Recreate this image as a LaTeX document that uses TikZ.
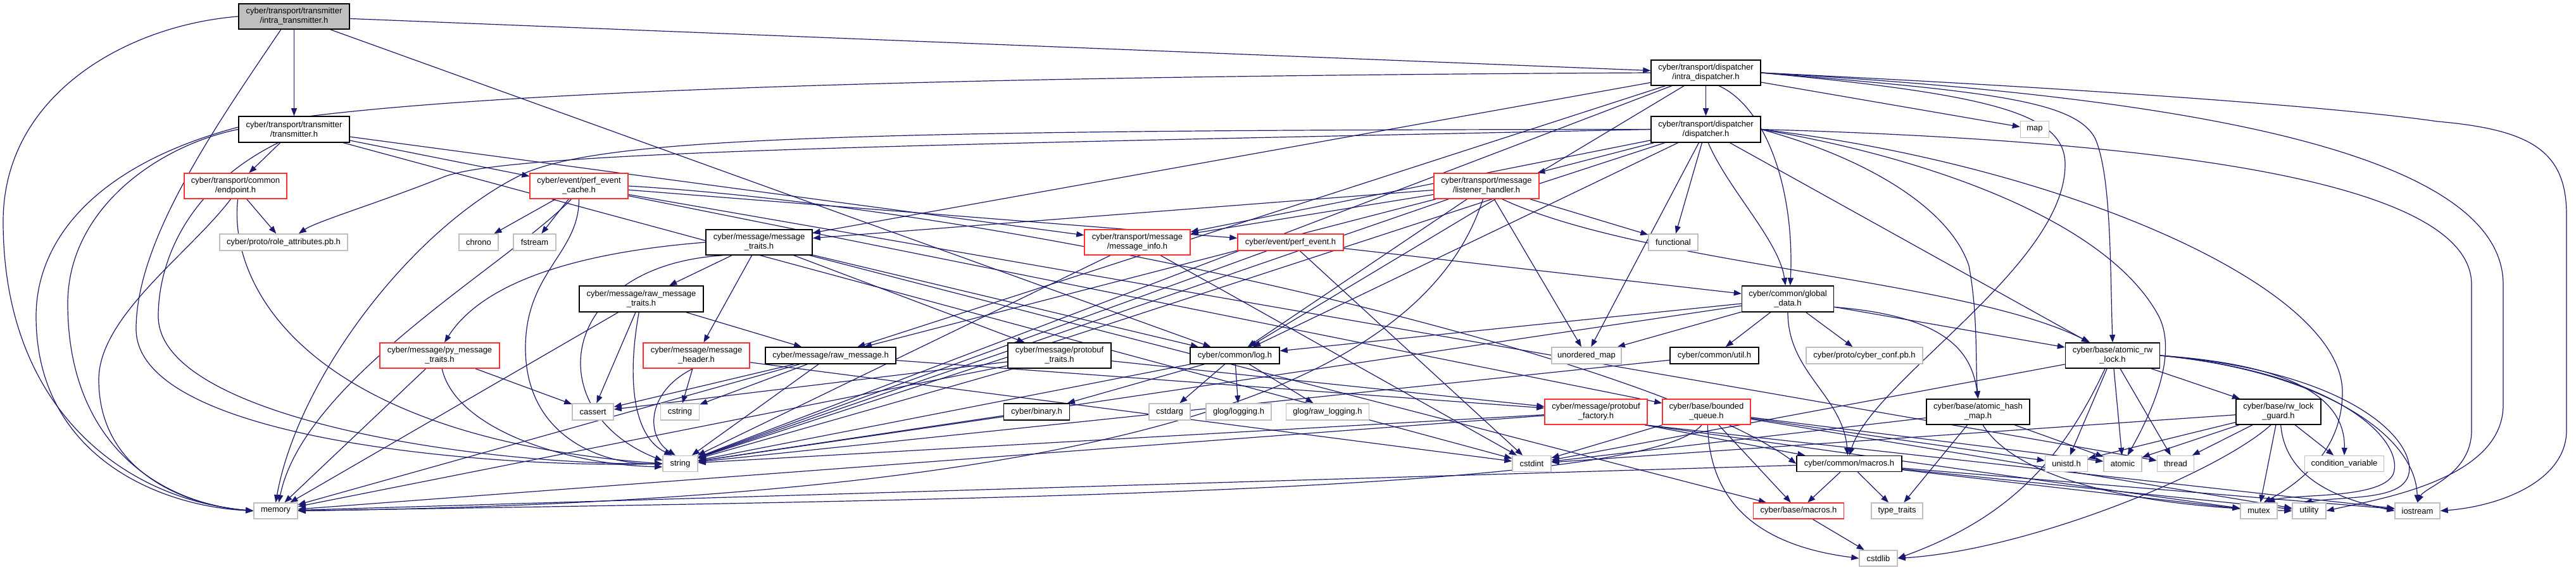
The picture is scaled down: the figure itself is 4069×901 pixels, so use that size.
\documentclass[tikz,border=0pt]{standalone}
\usepackage{fontspec}
\setmainfont{Liberation Sans}
\usetikzlibrary{arrows.meta}
\definecolor{edgec}{HTML}{191970}
\definecolor{leafc}{HTML}{BFBFBF}
\definecolor{redc}{HTML}{FF3030}
\pgfdeclarelayer{back}
\pgfdeclarelayer{edges}
\pgfsetlayers{back,edges,main}
\newcommand{\mkn}[7]{\node[#1, minimum width=#5pt, minimum height=#6pt] (#2) at (#3,#4) {#7};}
\begin{document}
\begin{tikzpicture}[x=1pt,y=-1pt,
  bx/.style={draw, fill=white, line width=1.5pt, align=center, inner sep=0pt, font=\fontsize{13}{15}\selectfont},
  nb/.style={bx, draw=black},
  nr/.style={bx, draw=redc},
  ng/.style={bx, draw=leafc},
  root/.style={bx, draw=black, fill=leafc},
  e/.style={draw=edgec, line width=1.2pt, -{Triangle[length=12pt,width=9pt]}, fill=none}]
\begin{pgfonlayer}{back}
\fill[white] (0,0) rectangle (4069,901);
\end{pgfonlayer}
\useasboundingbox (0,0) rectangle (4069,901);
% nodes
\mkn{root}{it}{464.5}{26}{175}{40}{cyber/transport/transmitter\\/intra\_transmitter.h}
\mkn{nb}{tr}{464.5}{204.5}{175}{41}{cyber/transport/transmitter\\/transmitter.h}
\mkn{nr}{ep}{372}{294}{162}{40}{cyber/transport/common\\/endpoint.h}
\mkn{ng}{ra}{448}{383}{202}{26}{cyber/proto/role\_attributes.pb.h}
\mkn{nr}{pec}{914.5}{294}{155}{40}{cyber/event/perf\_event\\\_cache.h}
\mkn{ng}{chrono}{756}{383}{62}{26}{chrono}
\mkn{ng}{fstream}{844.5}{383}{67}{26}{fstream}
\mkn{nb}{mt}{1199}{383}{168}{40}{cyber/message/message\\\_traits.h}
\mkn{nr}{mi}{1796.5}{383}{167}{40}{cyber/transport/message\\/message\_info.h}
\mkn{nr}{pe}{2038.5}{383}{167}{26}{cyber/event/perf\_event.h}
\mkn{nb}{id}{2694.5}{115}{173}{40}{cyber/transport/dispatcher\\/intra\_dispatcher.h}
\mkn{nb}{dp}{2694.5}{204.5}{173}{41}{cyber/transport/dispatcher\\/dispatcher.h}
\mkn{nr}{lh}{2348}{294}{166}{40}{cyber/transport/message\\/listener\_handler.h}
\mkn{ng}{functional}{2643}{383}{78}{26}{functional}
\mkn{ng}{map}{3214}{204.5}{45}{26}{map}
\mkn{nb}{rmt}{1013}{472.5}{196}{41}{cyber/message/raw\_message\\\_traits.h}
\mkn{nr}{pmt}{694.5}{562}{189}{40}{cyber/message/py\_message\\\_traits.h}
\mkn{ng}{cassert}{936.5}{651}{65}{26}{cassert}
\mkn{ng}{memory}{435.5}{807.5}{69}{25}{memory}
\mkn{nr}{mh}{1100}{562}{168}{40}{cyber/message/message\\\_header.h}
\mkn{nb}{rm}{1312}{562}{206}{26}{cyber/message/raw\_message.h}
\mkn{nb}{pt}{1673.5}{562}{163}{40}{cyber/message/protobuf\\\_traits.h}
\mkn{nb}{log}{1950.5}{562}{141}{26}{cyber/common/log.h}
\mkn{ng}{cstring}{1074}{651}{61}{26}{cstring}
\mkn{nb}{binary}{1637.5}{651}{104}{26}{cyber/binary.h}
\mkn{ng}{cstdarg}{1847.5}{651}{65}{26}{cstdarg}
\mkn{ng}{glog}{1956.5}{651}{103}{26}{glog/logging.h}
\mkn{ng}{string}{1074.5}{733}{55}{25}{string}
\mkn{nb}{gd}{2824}{472.5}{145}{41}{cyber/common/global\\\_data.h}
\mkn{ng}{umap}{2506}{562}{110}{26}{unordered\_map}
\mkn{nb}{util}{2708}{562}{140}{26}{cyber/common/util.h}
\mkn{ng}{conf}{2945}{562}{184}{26}{cyber/proto/cyber\_conf.pb.h}
\mkn{ng}{rawlog}{2097}{651}{131}{26}{glog/raw\_logging.h}
\mkn{nr}{pf}{2521}{651}{162}{40}{cyber/message/protobuf\\\_factory.h}
\mkn{nr}{bq}{2695.5}{651}{139}{40}{cyber/base/bounded\\\_queue.h}
\mkn{ng}{cstdint}{2419.5}{733}{61}{25}{cstdint}
\mkn{nb}{cm}{2921}{733}{166}{25}{cyber/common/macros.h}
\mkn{nr}{bm}{2841}{807.5}{143}{25}{cyber/base/macros.h}
\mkn{ng}{tt}{2996.5}{807.5}{81}{25}{type\_traits}
\mkn{ng}{cstdlib}{2967}{882.5}{60}{25}{cstdlib}
\mkn{nb}{arw}{3337}{562}{149}{40}{cyber/base/atomic\_rw\\\_lock.h}
\mkn{nb}{ahm}{3124.5}{651}{163}{40}{cyber/base/atomic\_hash\\\_map.h}
\mkn{nb}{rlg}{3599}{651}{134}{40}{cyber/base/rw\_lock\\\_guard.h}
\mkn{ng}{unistd}{3264}{733}{67}{25}{unistd.h}
\mkn{ng}{atomic}{3353}{733}{60}{25}{atomic}
\mkn{ng}{thread}{3436.5}{733}{58}{25}{thread}
\mkn{ng}{cv}{3703}{733}{125}{25}{condition\_variable}
\mkn{ng}{mutex}{3568}{807.5}{58}{25}{mutex}
\mkn{ng}{utility}{3647.5}{807.5}{53}{25}{utility}
\mkn{ng}{iostream}{3818.5}{807.5}{71}{25}{iostream}
\begin{pgfonlayer}{edges}
% straight edges
\foreach \a/\b in {it/tr, it/log, it/id,
  tr/ep, tr/pec, tr/mi, tr/cstdint, ep/ra,
  pec/chrono, pec/fstream, pec/thread, pec/bq, pec/pe,
  id/map, id/log, id/mt, id/rm, id/dp, id/string,
  dp/functional, dp/string, dp/umap, dp/arw, dp/log, dp/lh, dp/mi,
  lh/functional, lh/string, lh/umap, lh/log, lh/mt, lh/rm, lh/mi,
  mi/string, mi/cstdint, pe/string, pe/cstdint, pe/gd,
  mt/bm, mt/log, mt/mh, mt/pt, mt/rmt,
  pt/cassert, pt/memory, pt/string, pt/pf,
  rmt/cassert, rmt/memory, rmt/rm, pmt/cassert, pmt/memory,
  mh/cstdint, mh/cstring,
  rm/cassert, rm/cstring, rm/memory, rm/string, rm/pf,
  log/cstdarg, log/string, log/glog, log/rawlog, log/binary, binary/string,
  gd/string, gd/umap, gd/arw, gd/log, gd/util, gd/conf, util/string,
  pf/memory, pf/string,
  bq/unistd, bq/atomic, bq/cstdint, bq/utility, bq/bm,
  cm/iostream, cm/memory, cm/mutex, cm/tt, cm/utility, cm/bm, bm/cstdlib,
  arw/unistd, arw/atomic, arw/thread, arw/cstdint, arw/rlg,
  rlg/unistd, rlg/atomic, rlg/thread, rlg/cv, rlg/cstdint, rlg/mutex,
  ahm/atomic, ahm/tt, ahm/cstdint}
  {\draw[e] (\a) -- (\b);}
% curved edges
\draw[e] (it.west) .. controls (200,40) and (5,150) .. (5,350) .. controls (5,650) and (200,790) .. (memory.west);
\draw[e] (it.225) .. controls (340,200) and (215,380) .. (215,520) .. controls (215,700) and (800,740) .. (string.west);
\draw[e] (tr.west) .. controls (250,230) and (107,330) .. (107,480) .. controls (107,700) and (250,795) .. (memory.west);
\draw[e] (tr.220) .. controls (290,300) and (250,420) .. (250,500) .. controls (250,660) and (750,735) .. (string.west);
\draw[e] (ep.250) .. controls (300,400) and (156,500) .. (156,600) .. controls (156,750) and (300,800) .. (memory.west);
\draw[e] (ep.280) .. controls (360,450) and (480,690) .. (string.west);
\draw[e] (pec.240) .. controls (800,420) and (480,600) .. (memory.70);
\draw[e] (pec.-90) .. controls (915,400) and (830,430) .. (830,550) .. controls (830,690) and (950,735) .. (string.west);
\draw[e] (pec.east) .. controls (1600,330) and (2600,560) .. (cm.west);
\draw[e] (id.west) .. controls (1600,120) and (700,140) .. (380,200) .. controls (150,260) and (57,380) .. (57,500) .. controls (57,720) and (250,800) .. (memory.west);
\draw[e] (dp.west) .. controls (1300,205) and (950,220) .. (826,275) .. controls (650,360) and (470,600) .. (memory.north);
\draw[e] (dp.west) .. controls (1400,230) and (800,240) .. (700,280) .. controls (600,320) and (500,350) .. (ra.30);
\draw[e] (id.east) .. controls (3300,140) and (3700,170) .. (3850,192) .. controls (4000,205) and (4054,240) .. (4054,340) -- (4054,680) .. controls (4054,760) and (3950,800) .. (iostream.east);
\draw[e] (id.east) .. controls (3400,150) and (3954,230) .. (3954,450) -- (3954,640) .. controls (3954,760) and (3750,790) .. (utility.east);
\draw[e] (dp.east) .. controls (3500,225) and (3904,300) .. (3904,450) -- (3904,680) .. controls (3904,750) and (3830,770) .. (iostream.north);
\draw[e] (id.east) .. controls (3150,145) and (3280,160) .. (3310,220) .. controls (3335,280) and (3333,420) .. (arw.north);
\draw[e] (id.east) .. controls (3150,150) and (3262,180) .. (3262,260) .. controls (3262,420) and (2960,600) .. (cm.north);
\draw[e] (id.-45) .. controls (2790,170) and (2835,300) .. (gd.80);
\draw[e] (dp.-80) .. controls (2730,300) and (2810,380) .. (gd.100);
\draw[e] (dp.east) .. controls (3050,250) and (3330,350) .. (3410,500) .. controls (3440,560) and (3400,650) .. (atomic.60);
\draw[e] (dp.east) .. controls (2950,250) and (3080,330) .. (3110,420) .. controls (3125,500) and (3120,580) .. (ahm.north);
\draw[e] (dp.east) .. controls (3250,260) and (3700,450) .. (3700,620) .. controls (3700,720) and (3620,770) .. (mutex.60);
\draw[e] (lh.255) .. controls (2250,600) and (1800,790) .. (memory.east);
\draw[e] (lh.-40) .. controls (2600,420) and (3100,440) .. (arw.150);
\draw[e] (mt.200) .. controls (880,420) and (850,650) .. (string.170);
\draw[e] (mt.west) .. controls (900,400) and (760,450) .. (pmt.70);
\draw[e] (rmt.-100) .. controls (990,600) and (1000,690) .. (string.135);
\draw[e] (pmt.-80) .. controls (720,680) and (900,735) .. (string.190);
\draw[e] (mh.255) .. controls (1020,620) and (1020,690) .. (string.120);
\draw[e] (gd.-90) to[out=-90,in=95] (cm.100);
\draw[e] (gd.-10) .. controls (3080,500) and (3115,560) .. (ahm.north);
\draw[e] (pf.-15) -- (iostream);
\draw[e] (pf.-15) -- (mutex);
\draw[e] (pf.-15) -- (cm);
\draw[e] (bq.-110) .. controls (2600,780) and (1500,790) .. (memory.east);
\draw[e] (bq.-85) .. controls (2700,780) and (2760,860) .. (cstdlib.west);
\draw[e] (arw.240) to[out=-115,in=20] (cstdlib.east);
\draw[e] (rlg.-120) .. controls (3500,750) and (3200,870) .. (cstdlib.east);
\draw[e] (arw.east) .. controls (3600,575) and (3705,620) .. (cv.north);
\draw[e] (arw.east) .. controls (3700,590) and (3800,700) .. (3780,750) .. controls (3760,790) and (3620,780) .. (mutex.45);
\draw[e] (arw.east) .. controls (3750,590) and (3830,720) .. (3800,760) .. controls (3780,790) and (3700,785) .. (utility.120);
\draw[e] (arw.east) .. controls (3650,585) and (3815,680) .. (iostream.north);
\draw[e] (rlg.-80) .. controls (3610,760) and (3700,790) .. (iostream.west);
\draw[e] (ahm.-70) .. controls (3180,750) and (3350,800) .. (utility.west);
\end{pgfonlayer}
\end{tikzpicture}
\end{document}
